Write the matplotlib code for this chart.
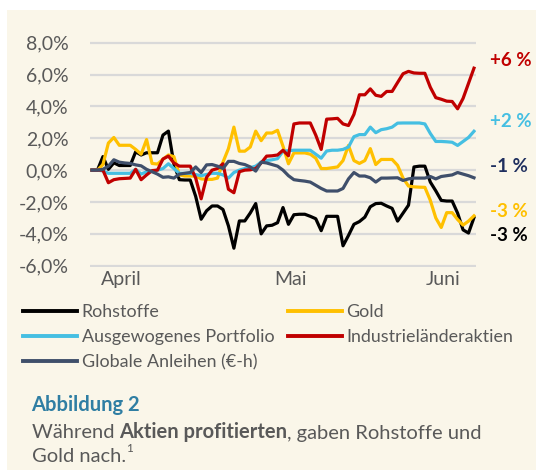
import matplotlib
matplotlib.use("Agg")
import matplotlib.pyplot as plt
from matplotlib.lines import Line2D
from matplotlib.patches import Rectangle

# ---------------- data (percent change since start, daily) ----------------
rohstoffe = [0, 0, 0.85, 0.05, 0.46, 0.29, 0.29, 0.29, 1.15, 0.95,
             1.09, 1.09, 1.09, 2.2, 2.45, 0.4, -0.6, -0.62, -0.62, -1.65,
             -3.08, -2.55, -2.25, -2.25, -2.47, -3.5, -4.9, -3.19, -3.19, -2.69,
             -2.1, -4.0, -3.5, -3.46, -3.3, -2.35, -3.4, -2.8, -2.77, -2.77,
             -2.9, -3.05, -3.8, -2.9, -2.9, -2.9, -4.75, -4.1, -3.4, -3.23,
             -2.95, -2.3, -2.1, -2.08, -2.25, -2.4, -3.2, -2.7, -2.2, 0.2,
             0.25, 0.25, -0.75, -1.3, -1.9, -1.94, -1.94, -2.7, -3.75, -3.95,
             -2.98]
gold = [0, 0, 0.35, 1.7, 2.05, 1.56, 1.56, 1.56, 1.3, 1.0,
        1.92, 0.42, 0.38, 0.68, 0.95, 0.85, -0.3, -0.37, -0.37, -0.37,
        -0.55, -0.58, -0.58, -0.5, 0.5, 1.35, 2.7, 1.19, 1.19, 1.45,
        2.45, 1.85, 2.33, 2.33, 2.5, 1.5, 0.4, 1.08, 1.08, 1.08,
        1.0, 0.75, 0.1, 0.1, 0.15, 0.2, 0.6, 1.55, 0.6, 0.42,
        0.6, 1.35, 0.35, 0.67, 0.67, 0.67, 0.3, -0.5, -1.0, -1.05,
        -1.07, -1.08, -1.9, -3.0, -3.6, -2.67, -2.67, -3.1, -3.45, -3.2,
        -2.87]
portfolio = [0, 0, -0.05, -0.2, -0.2, -0.2, -0.2, -0.2, 0.05, -0.25,
             -0.1, -0.05, 0, 0.1, 0.4, 0.1, -0.2, -0.2, -0.2, -0.28,
             -0.35, -0.27, -0.2, -0.2, -0.3, -0.5, -0.15, 0, 0.1, 0.15,
             0.25, 0.5, 0.6, 0.65, 0.72, 1.19, 1.22, 1.25, 1.25, 1.25,
             1.25, 1.0, 0.75, 1.2, 1.25, 1.25, 1.3, 1.45, 2.1, 2.23,
             2.23, 2.7, 2.35, 2.54, 2.6, 2.7, 2.95, 2.96, 2.96, 2.96,
             2.96, 2.9, 2.3, 1.8, 1.8, 1.78, 1.75, 1.55, 1.8, 2.05,
             2.44]
aktien = [0, 0, 0, -0.79, -0.6, -0.54, -0.52, -0.5, 0.05, -0.6,
          -0.3, -0.03, 0, 0.7, 0.88, 0.45, 0.25, 0.25, 0.25, -0.5,
          -1.8, -0.45, 0, 0.1, 0.4, -1.2, -1.42, -0.1, 0, 0.02,
          0.1, 0.45, 0.88, 0.9, 0.95, 1.25, 0.9, 2.9, 2.96, 2.96,
          2.96, 2.2, 1.3, 3.2, 3.22, 3.25, 2.9, 2.8, 3.5, 4.73,
          4.73, 5.1, 4.7, 4.63, 4.94, 4.94, 5.5, 6.05, 6.2, 6.1,
          6.08, 6.08, 5.2, 4.55, 4.45, 4.33, 4.31, 3.85, 4.5, 5.45,
          6.4]
anleihen = [0, 0, 0.05, 0.25, 0.65, 0.5, 0.45, 0.42, 0.33, 0.27,
            0.05, -0.1, -0.25, -0.45, -0.42, -0.5, -0.25, -0.2, -0.15, 0.2,
            -0.15, 0.33, 0.35, 0.25, 0.1, 0.55, 0.55, 0.42, 0.35, 0.2,
            -0.06, 0.5, 0.45, 0.35, 0.25, 0.0, -0.35, -0.6, -0.65, -0.69,
            -0.75, -0.95, -1.15, -1.31, -1.31, -1.31, -1.15, -0.55, -0.15, -0.37,
            -0.37, -0.48, -0.75, -0.5, -0.5, -0.49, -0.48, -0.65, -0.55, -0.5,
            -0.5, -0.5, -0.4, -0.55, -0.4, -0.35, -0.3, -0.15, -0.25, -0.35,
            -0.48]

series_names = ["Rohstoffe", "Gold", "Ausgewogenes Portfolio",
                "Industrieländeraktien", "Globale Anleihen (€-h)"]
series_values = [rohstoffe, gold, portfolio, aktien, anleihen]
series_colors = ["#000000", "#FFC000", "#45BFE2", "#C00000", "#3F4F6B"]

y_ticks = [-6, -4, -2, 0, 2, 4, 6, 8]
y_tick_labels = ["-6,0%", "-4,0%", "-2,0%", "0,0%", "2,0%", "4,0%", "6,0%", "8,0%"]
month_labels = ["April", "Mai", "Juni"]
month_positions = [5.4, 36.3, 64.3]

end_labels = ["+6 %", "+2 %", "-1 %", "-3 %", "-3 %"]
end_label_colors = ["#C00000", "#45BFE2", "#1F2F5F", "#FFC000", "#000000"]
end_label_y_px = [61, 121.5, 166, 211.5, 236]

caption_title = "Abbildung 2"
caption_parts = [("Während ", "normal"), ("Aktien profitierten", "bold"),
                 (", gaben Rohstoffe und", "normal")]
caption_line2 = "Gold nach."
caption_footnote = "1"

# ---------------- style ----------------
plt.rcParams["font.family"] = ["Lato", "DejaVu Sans"]
W, H = 536, 470
CREAM = "#FAF6E9"
TEXT_GRAY = "#595959"

def fx(px):
    return px / W

def fy(py):
    return 1 - py / H

fig = plt.figure(figsize=(W / 100, H / 100), dpi=100)
fig.patch.set_facecolor("white")
fig.patches.append(Rectangle((fx(7), 0), 1 - fx(7), fy(10), transform=fig.transFigure,
                             facecolor=CREAM, edgecolor="none", zorder=-10))

ax = fig.add_axes([fx(90), fy(267.3), fx(476) - fx(90), fy(41.1) - fy(267.3)])
ax.patch.set_alpha(0)

x = list(range(len(rohstoffe)))
for name, vals, col in zip(series_names, series_values, series_colors):
    if name.startswith("Globale"):
        continue
    ax.plot(x, vals, color=col, lw=2.3, zorder=3)
# bonds drawn last (on top)
ax.plot(x, anleihen, color=series_colors[4], lw=2.3, zorder=4)

ax.set_xlim(-0.37, len(x) - 1 + 0.37)
ax.set_ylim(-6.1, 8.1)
ax.set_yticks(y_ticks, y_tick_labels)
ax.set_xticks(month_positions, month_labels)
ax.tick_params(axis="both", length=0, labelsize=14, colors=TEXT_GRAY)
ax.tick_params(axis="y", pad=15.5)
ax.tick_params(axis="x", pad=2.5)
ax.yaxis.grid(True, color="#D9D9D9", lw=1.6)
ax.set_axisbelow(True)
for s in ax.spines.values():
    s.set_visible(False)

for lab, col, ypx in zip(end_labels, end_label_colors, end_label_y_px):
    fig.text(fx(490), fy(ypx), lab, color=col, fontsize=13.5, fontweight="bold",
             ha="left", va="center")

handles = [Line2D([], [], color=c, lw=2.8) for c in series_colors]
order = [0, 2, 4, 1, 3]
leg = fig.legend([handles[i] for i in order], [series_names[i] for i in order],
                 ncol=2, loc="upper left", bbox_to_anchor=(fx(23), fy(304)),
                 frameon=False, fontsize=12.9, handlelength=3.0, handletextpad=0.28,
                 columnspacing=0.75, labelspacing=0.52, borderpad=0, borderaxespad=0)
for t in leg.get_texts():
    t.set_color(TEXT_GRAY)

fig.text(fx(31.5), fy(411), caption_title, color="#2F7EA3", fontsize=14.5,
         fontweight="bold", ha="left", va="baseline")

renderer = fig.canvas.get_renderer()
xpos = fx(31.5)
for txt, wt in caption_parts:
    t = fig.text(xpos, fy(438.5), txt, color=TEXT_GRAY, fontsize=14.5, fontweight=wt,
                 ha="left", va="baseline")
    bb = t.get_window_extent(renderer)
    xpos = bb.x1 / fig.bbox.width
t = fig.text(fx(31.5), fy(461.5), caption_line2, color=TEXT_GRAY, fontsize=14.5,
             ha="left", va="baseline")
bb = t.get_window_extent(renderer)
fig.text(bb.x1 / fig.bbox.width, fy(452), caption_footnote, color=TEXT_GRAY,
         fontsize=8.5, ha="left", va="baseline")

fig.savefig("out.png", dpi=100, facecolor=fig.get_facecolor())
